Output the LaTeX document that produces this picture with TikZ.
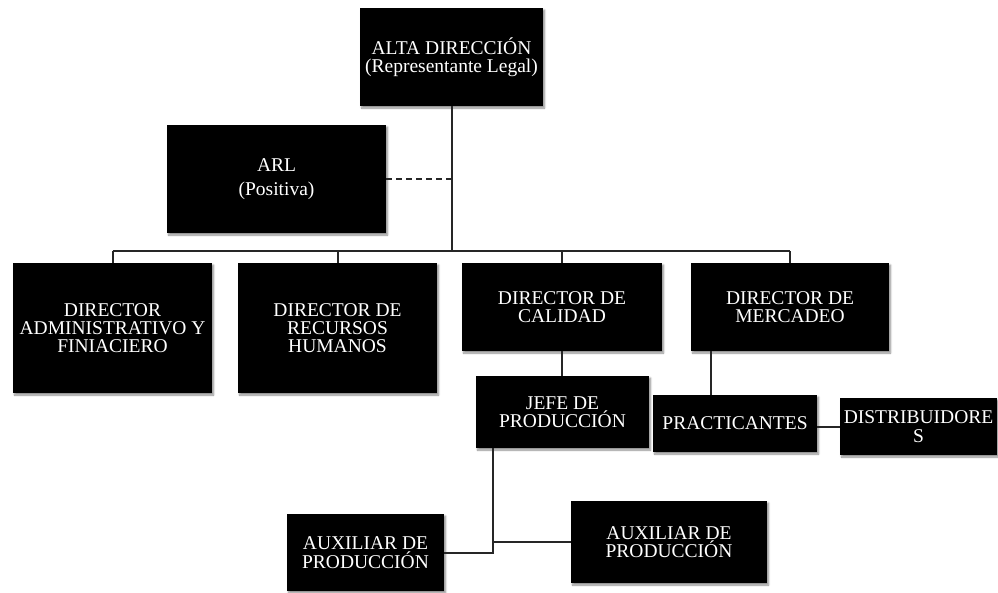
\documentclass[tikz,border=0pt]{standalone}
\usepackage{fontspec}
\setmainfont{Liberation Serif}
\usetikzlibrary{shadows.blur}
\begin{document}
\begin{tikzpicture}[x=1pt,y=-1pt,
  box/.style={fill=black, text=white, inner sep=0pt, align=center,
    font=\fontsize{19.5}{18.3}\selectfont,
    blur shadow={shadow xshift=1.5pt, shadow yshift=-2pt, shadow blur steps=6, shadow opacity=45}},
  link/.style={draw=black!85, line width=2pt}]
\useasboundingbox (0,0) rectangle (998,592);
\node[box, minimum width=183, minimum height=98] (alta) at (451.5,57) {ALTA DIRECCIÓN\\(Representante Legal)};
\node[box, minimum width=219, minimum height=108, font=\fontsize{19.5}{24}\selectfont] (arl) at (276.5,179) {ARL\\(Positiva)};
\node[box, minimum width=199, minimum height=130] (d1) at (112.5,328) {DIRECTOR\\ADMINISTRATIVO Y\\FINIACIERO};
\node[box, minimum width=199, minimum height=130] (d2) at (337.5,328) {DIRECTOR DE\\RECURSOS\\HUMANOS};
\node[box, minimum width=200, minimum height=88] (d3) at (562,307) {DIRECTOR DE\\CALIDAD};
\node[box, minimum width=198, minimum height=88] (d4) at (790,307) {DIRECTOR DE\\MERCADEO};
\node[box, minimum width=173, minimum height=72] (jefe) at (562.5,412) {JEFE DE\\PRODUCCIÓN};
\node[box, minimum width=164, minimum height=57] (pract) at (735,423.5) {PRACTICANTES};
\node[box, minimum width=157, minimum height=57] (dist) at (918.5,426.5) {DISTRIBUIDORE\\S};
\node[box, minimum width=157, minimum height=77] (aux1) at (365.5,552.5) {AUXILIAR DE\\PRODUCCIÓN};
\node[box, minimum width=196, minimum height=82] (aux2) at (669,542) {AUXILIAR DE\\PRODUCCIÓN};
\coordinate (bus) at (0,251);
\draw[link] (alta.south) -- (alta.south |- bus);
\draw[link] (d1.north |- bus) -- (d4.north |- bus);
\draw[link] (d1.north) -- (d1.north |- bus);
\draw[link] (d2.north) -- (d2.north |- bus);
\draw[link] (d3.north) -- (d3.north |- bus);
\draw[link] (d4.north) -- (d4.north |- bus);
\draw[link, dash pattern=on 6pt off 4pt] (arl.east) -- (arl.east -| alta.south);
\draw[link] (d3.south) -- (d3.south |- jefe.north);
\coordinate (m) at ([xshift=-79pt]d4.south);
\draw[link] (m) -- (m |- pract.north);
\draw[link] (dist.west) -- (dist.west -| pract.east);
\coordinate (j) at ([xshift=-69.5pt]jefe.south);
\draw[link] (j) |- (aux1.east);
\draw[link] (j |- aux2.west) -- (aux2.west);
\end{tikzpicture}
\end{document}
